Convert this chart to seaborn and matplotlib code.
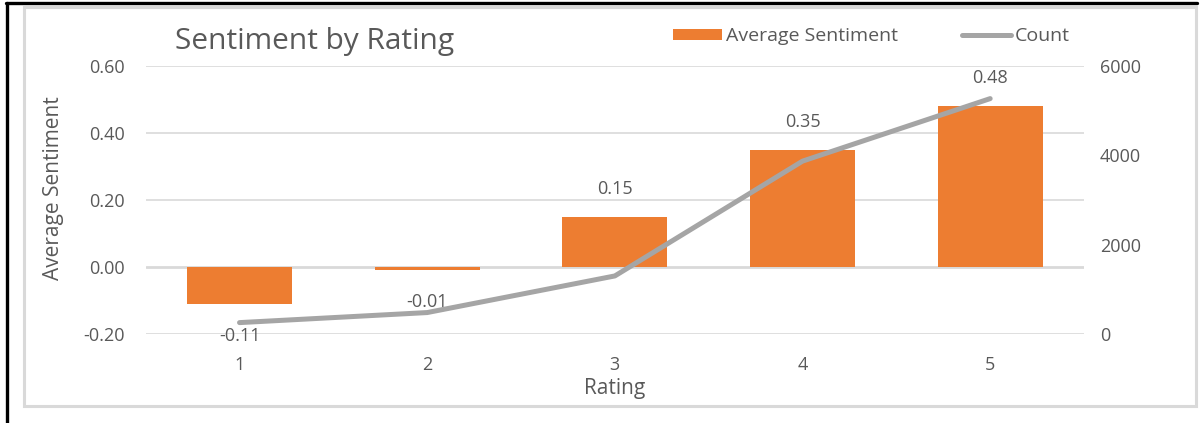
import numpy as np
import pandas as pd
import matplotlib
matplotlib.use("Agg")
import matplotlib.pyplot as plt
from matplotlib.lines import Line2D
from matplotlib.patches import Rectangle, Patch
import seaborn as sns

# Data
ratings = [1, 2, 3, 4, 5]
avg_sentiment = [-0.11, -0.01, 0.15, 0.35, 0.48]
review_counts = [255, 480, 1300, 3870, 5270]
left_ticks = [-0.20, 0.00, 0.20, 0.40, 0.60]
right_ticks = [0, 2000, 4000, 6000]

df = pd.DataFrame({"Rating": ratings,
                   "Average Sentiment": avg_sentiment,
                   "Count": review_counts})

sns.set_theme(style="white")
plt.rcParams["font.family"] = ["Open Sans", "DejaVu Sans"]

TEXT = "#595959"
BAR = "#ED7D31"
LINE = "#A5A5A5"
GRID = "#D9D9D9"
NUM_SIZE = 13

W, H = 1203, 423
fig = plt.figure(figsize=(W / 100, H / 100), dpi=100)
fig.patch.set_facecolor("white")

# plot area in pixel coordinates
x0, x1 = 145.7, 1084.0
y_top, y_bot = 66.0, 334.0
ax = fig.add_axes([x0 / W, 1 - y_bot / H, (x1 - x0) / W, (y_bot - y_top) / H])
ax.set_facecolor("none")

sns.barplot(data=df, x="Rating", y="Average Sentiment", color=BAR,
            native_scale=True, width=0.56, saturation=1, ax=ax, zorder=2,
            linewidth=0, edgecolor="none")
ax.set_xlim(0.5, 5.5)
ax.set_ylim(-0.2, 0.6)
ax.set_yticks(left_ticks)
ax.set_yticklabels([f"{v:.2f}" for v in left_ticks])
ax.set_xticks(ratings)
ax.set_xticklabels([str(r) for r in ratings])
for s in ax.spines.values():
    s.set_visible(False)
for v in left_ticks:
    ax.axhline(v, color=GRID, lw=2.0 if v == 0 else 1.2, zorder=0)
ax.tick_params(axis="both", length=0, colors=TEXT, labelsize=NUM_SIZE)
ax.tick_params(axis="y", pad=15)
ax.tick_params(axis="x", pad=16)
ax.set_xlabel("Rating", color=TEXT, fontsize=15, labelpad=3)
ax.set_ylabel("Average Sentiment", color=TEXT, fontsize=15)
ax.yaxis.set_label_coords((64 - x0) / (x1 - x0), (y_bot - 188) / (y_bot - y_top))

# value labels outside the bar ends
for r, v in zip(ratings, avg_sentiment):
    off = 20 if v >= 0 else -23
    ax.annotate(f"{v:.2f}", (r, v), xytext=(0, off), textcoords="offset points",
                ha="center", va="center", color=TEXT, fontsize=NUM_SIZE)

# count line on the secondary axis
ax2 = ax.twinx()
sns.lineplot(data=df, x="Rating", y="Count", color=LINE, lw=3.6,
             ax=ax2, zorder=3, solid_capstyle="round")
ax2.set_ylim(0, 6000)
ax2.set_yticks(right_ticks)
ax2.set_yticklabels([str(t) for t in right_ticks])
ax2.set_ylabel("")
ax2.set_xlim(0.5, 5.5)
for s in ax2.spines.values():
    s.set_visible(False)
ax2.tick_params(axis="y", length=0, colors=TEXT, labelsize=NUM_SIZE, pad=11.5)

# title
fig.text(175 / W, 1 - 49 / H, "Sentiment by Rating", ha="left", va="baseline",
         color=TEXT, fontsize=21.5)

# legend
handles = [Patch(facecolor=BAR, edgecolor="none"),
           Line2D([], [], color=LINE, lw=3.6)]
fig.legend(handles, ["Average Sentiment", "Count"], loc="center left",
           bbox_to_anchor=(673 / W, 1 - 36 / H), bbox_transform=fig.transFigure,
           ncol=2, frameon=False, fontsize=14, labelcolor=TEXT,
           handlelength=2.5, handleheight=0.5, handletextpad=0.22,
           columnspacing=3.3, borderpad=0, borderaxespad=0)

# chart border and outer frame
fig.patches.append(Rectangle((23.5 / W, 1 - 405.5 / H), (1195.5 - 23.5) / W,
                             (405.5 - 7) / H, transform=fig.transFigure,
                             fill=False, edgecolor=GRID, lw=2.2))
fig.lines.append(Line2D([6 / W, 1197 / W], [1 - 3.5 / H, 1 - 3.5 / H],
                        transform=fig.transFigure, color="black", lw=2.4))
fig.lines.append(Line2D([7 / W, 7 / W], [0, 1 - 3.5 / H],
                        transform=fig.transFigure, color="black", lw=2.4))

fig.savefig("out.png", dpi=100, facecolor="white")
